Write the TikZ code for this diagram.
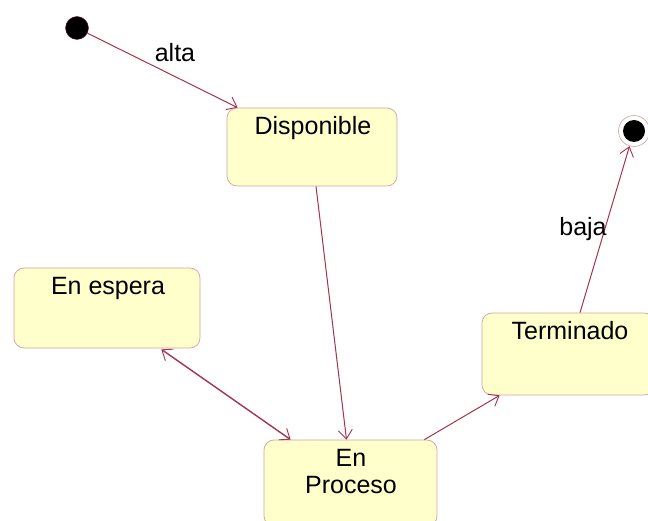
\documentclass[tikz,border=0pt]{standalone}
\usepackage{fontspec}
\setmainfont{Liberation Sans}
\usetikzlibrary{arrows.meta,calc}
\definecolor{boxfill}{RGB}{255,255,204}
\definecolor{boxline}{RGB}{215,160,160}
\definecolor{arr}{RGB}{165,50,80}
\tikzset{
  statebox/.style={draw=boxline, fill=boxfill, rounded corners=10pt, line width=0.7pt, inner sep=0pt},
  lbl/.style={font=\fontsize{25}{26}\selectfont, inner sep=0pt},
  trans/.style={draw=arr, line width=1pt, -{Straight Barb[length=9pt,width=14pt,line width=0.9pt]}},
}
\begin{document}
\begin{tikzpicture}[x=1pt,y=-1pt]
\useasboundingbox (0,0) rectangle (648,521);
% states
\node[statebox, minimum width=170pt, minimum height=78pt] (disp) at (312,147) {};
\node[statebox, minimum width=186pt, minimum height=80pt] (esp) at (107,308) {};
\node[statebox, minimum width=172pt, minimum height=82pt] (term) at (568,354) {};
\node[statebox, minimum width=173pt, minimum height=86pt] (proc) at (350.5,483) {};
\node[lbl] (tdisp) at (313,128) {Disponible};
\node[lbl] (tesp) at (108,288) {En espera};
\node[lbl] (tterm) at (570,331) {Terminado};
\node[lbl, align=center] (tproc) at (351,472) {En\\[1pt]Proceso};
% initial and final
\node[circle, fill=black, draw=arr!60!black, minimum size=23pt, inner sep=0pt] (init) at (77,28) {};
\node[circle, draw=boxline, fill=white, line width=0.6pt, minimum size=31pt, inner sep=0pt] (final) at (634,131) {};
\node[circle, fill=black, minimum size=22pt, inner sep=0pt] (finalin) at (634,131) {};
% transitions
\draw[trans] (init) -- ($(disp.north west)+(11,0)$);
\draw[trans] ($(disp.south)+(4,0)$) -- ($(proc.north)+(-4,0)$);
\draw[trans, line width=1.4pt, {Straight Barb[length=9pt,width=14pt,line width=0.9pt]}-{Straight Barb[length=9pt,width=14pt,line width=0.9pt]}] ($(esp.south east)+(-39,1)$) -- ($(proc.north west)+(27,0)$);
\draw[trans] ($(proc.north east)+(-13,0)$) -- ($(term.south west)+(18,0)$);
\draw[trans] ($(term.north)+(12,0)$) -- (final);
\node[lbl] (lalta) at (175,53) {alta};
\node[lbl] (lbaja) at (583,229) {baja};
\end{tikzpicture}
\end{document}
